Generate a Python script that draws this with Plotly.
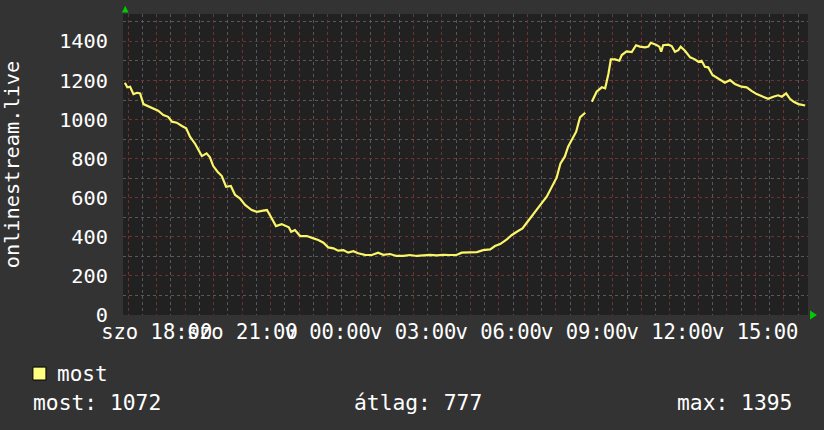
import plotly.graph_objects as go
import pandas as pd

# ---- data ----
times = [
    "2024-03-16 16:53", "2024-03-16 16:58", "2024-03-16 17:04", "2024-03-16 17:11", "2024-03-16 17:19",
    "2024-03-16 17:25", "2024-03-16 17:32", "2024-03-16 17:42", "2024-03-16 17:53", "2024-03-16 18:03",
    "2024-03-16 18:14", "2024-03-16 18:24", "2024-03-16 18:32", "2024-03-16 18:42", "2024-03-16 18:53",
    "2024-03-16 19:02", "2024-03-16 19:10", "2024-03-16 19:21", "2024-03-16 19:28", "2024-03-16 19:35",
    "2024-03-16 19:45", "2024-03-16 19:52", "2024-03-16 19:59", "2024-03-16 20:08", "2024-03-16 20:17",
    "2024-03-16 20:26", "2024-03-16 20:36", "2024-03-16 20:45", "2024-03-16 20:55", "2024-03-16 21:06",
    "2024-03-16 21:20", "2024-03-16 21:31", "2024-03-16 21:41", "2024-03-16 21:52", "2024-03-16 22:02",
    "2024-03-16 22:11", "2024-03-16 22:23", "2024-03-16 22:34", "2024-03-16 22:38", "2024-03-16 22:43",
    "2024-03-16 22:51", "2024-03-16 23:02", "2024-03-16 23:16", "2024-03-16 23:30", "2024-03-16 23:40",
    "2024-03-16 23:51", "2024-03-17 00:01", "2024-03-17 00:12", "2024-03-17 00:22", "2024-03-17 00:33",
    "2024-03-17 00:43", "2024-03-17 00:54", "2024-03-17 01:04", "2024-03-17 01:18", "2024-03-17 01:33",
    "2024-03-17 01:46", "2024-03-17 01:57", "2024-03-17 02:11", "2024-03-17 02:25", "2024-03-17 02:39",
    "2024-03-17 02:53", "2024-03-17 03:07", "2024-03-17 03:21", "2024-03-17 03:35", "2024-03-17 03:49",
    "2024-03-17 04:03", "2024-03-17 04:17", "2024-03-17 04:31", "2024-03-17 04:42", "2024-03-17 04:56",
    "2024-03-17 05:14", "2024-03-17 05:27", "2024-03-17 05:42", "2024-03-17 05:52", "2024-03-17 06:03",
    "2024-03-17 06:17", "2024-03-17 06:27", "2024-03-17 06:38", "2024-03-17 06:50", "2024-03-17 06:59",
    "2024-03-17 07:09", "2024-03-17 07:20", "2024-03-17 07:30", "2024-03-17 07:41", "2024-03-17 07:52",
    "2024-03-17 08:02", "2024-03-17 08:10", "2024-03-17 08:19", "2024-03-17 08:26", "2024-03-17 08:36",
    "2024-03-17 08:43", "2024-03-17 08:51", "2024-03-17 09:02", "2024-03-17 09:08", "2024-03-17 09:16",
    "2024-03-17 09:26", "2024-03-17 09:37", "2024-03-17 09:44", "2024-03-17 09:51", "2024-03-17 09:56",
    "2024-03-17 10:05", "2024-03-17 10:14", "2024-03-17 10:19", "2024-03-17 10:29", "2024-03-17 10:40",
    "2024-03-17 10:49", "2024-03-17 10:57", "2024-03-17 11:08", "2024-03-17 11:15", "2024-03-17 11:20",
    "2024-03-17 11:31", "2024-03-17 11:38", "2024-03-17 11:42", "2024-03-17 11:46", "2024-03-17 11:57",
    "2024-03-17 12:04", "2024-03-17 12:11", "2024-03-17 12:18", "2024-03-17 12:23", "2024-03-17 12:32",
    "2024-03-17 12:43", "2024-03-17 12:53", "2024-03-17 13:00", "2024-03-17 13:07", "2024-03-17 13:14",
    "2024-03-17 13:21", "2024-03-17 13:30", "2024-03-17 13:42", "2024-03-17 13:56", "2024-03-17 14:07",
    "2024-03-17 14:17", "2024-03-17 14:31", "2024-03-17 14:42", "2024-03-17 14:52", "2024-03-17 15:03",
    "2024-03-17 15:13", "2024-03-17 15:27", "2024-03-17 15:38", "2024-03-17 15:48", "2024-03-17 15:56",
    "2024-03-17 16:05", "2024-03-17 16:13", "2024-03-17 16:21", "2024-03-17 16:31", "2024-03-17 16:45",
]
listeners = [
    1188, 1165, 1168, 1130, 1137,
    1134, 1079, 1069, 1057, 1045,
    1023, 1014, 989, 984, 967,
    955, 912, 875, 844, 813,
    827, 807, 762, 733, 711,
    656, 660, 614, 597, 563,
    537, 528, 533, 537, 495,
    455, 465, 452, 449, 426,
    435, 404, 404, 392, 384,
    370, 346, 341, 329, 332,
    319, 326, 316, 308, 307,
    319, 308, 312, 302, 303,
    307, 302, 305, 308, 305,
    308, 307, 307, 319, 319,
    322, 332, 336, 353, 363,
    387, 408, 426, 443, 472,
    506, 541, 571, 605, 656,
    704, 776, 810, 861, 904,
    938, 1011, 1035, None, 1091,
    1142, 1165, 1160, 1236, 1308,
    1308, 1301, 1330, 1349, 1345,
    1380, 1373, 1369, 1373, 1393,
    1383, 1373, 1347, 1380, 1383,
    1376, 1347, 1355, 1373, 1352,
    1318, 1308, 1296, 1301, 1270,
    1267, 1228, 1211, 1188, 1202,
    1182, 1168, 1165, 1147, 1130,
    1120, 1106, 1117, 1124, 1117,
    1134, 1106, 1091, 1079, 1072,
]

hour_ticks = [
    "2024-03-16 17:00", "2024-03-16 18:00", "2024-03-16 19:00", "2024-03-16 20:00", "2024-03-16 21:00",
    "2024-03-16 22:00", "2024-03-16 23:00", "2024-03-17 00:00", "2024-03-17 01:00", "2024-03-17 02:00",
    "2024-03-17 03:00", "2024-03-17 04:00", "2024-03-17 05:00", "2024-03-17 06:00", "2024-03-17 07:00",
    "2024-03-17 08:00", "2024-03-17 09:00", "2024-03-17 10:00", "2024-03-17 11:00", "2024-03-17 12:00",
    "2024-03-17 13:00", "2024-03-17 14:00", "2024-03-17 15:00", "2024-03-17 16:00",
]
hour_labels = [
    "", "szo 18:00", "", "", "szo 21:00", "", "", "v 00:00", "", "", "v 03:00", "", "", "v 06:00",
    "", "", "v 09:00", "", "", "v 12:00", "", "", "v 15:00", "",
]
y_ticks = [0, 200, 400, 600, 800, 1000, 1200, 1400]
series_name = "most"
y_title = "onlinestream.live"
stats_text = ["most: 1072", "átlag: 777", "max: 1395"]

# half-hour minor grid positions
half_hours = [t.strftime("%Y-%m-%d %H:%M") for t in
              pd.date_range("2024-03-16 16:30", "2024-03-17 16:30", freq="60min")]

# ---- styling ----
FONT = "DejaVu Sans Mono"
BG = "#333333"
PLOT_BG = "#212121"
GRID_MINOR = "#585858"
GRID_MAJOR = "#6e3232"
LINE = "#fbf56a"
TXT = "#ffffff"

fig = go.Figure()
fig.add_trace(go.Scatter(
    x=times, y=listeners, mode="lines", name=series_name,
    line=dict(color=LINE, width=2.2), connectgaps=False, showlegend=False,
))

fig.update_layout(
    width=824, height=430,
    margin=dict(l=123, r=16, t=14, b=115, autoexpand=False),
    paper_bgcolor=BG, plot_bgcolor=PLOT_BG,
    font=dict(family=FONT, size=20, color=TXT),
    showlegend=False,
)
fig.update_xaxes(
    type="date",
    range=["2024-03-16 16:49", "2024-03-17 16:51"],
    tickmode="array", tickvals=hour_ticks, ticktext=hour_labels,
    tickangle=0, automargin=False,
    showgrid=True, gridcolor=GRID_MAJOR, griddash="dot", gridwidth=1,
    ticks="", ticklabelstandoff=2,
    minor=dict(tickmode="array", tickvals=half_hours, showgrid=True,
               gridcolor=GRID_MINOR, griddash="dot", gridwidth=1, ticks=""),
    tickfont=dict(family=FONT, size=20.5, color=TXT),
    zeroline=False, showline=False, fixedrange=True,
)
fig.update_yaxes(
    range=[0, 1540], automargin=False,
    tickmode="array", tickvals=y_ticks, ticktext=[str(v) for v in y_ticks],
    showgrid=True, gridcolor=GRID_MAJOR, griddash="dot", gridwidth=1,
    minor=dict(dtick=100, tick0=0, showgrid=True, gridcolor=GRID_MINOR,
               griddash="dot", gridwidth=1),
    ticks="", ticklabelstandoff=14,
    tickfont=dict(family=FONT, size=20.3, color=TXT),
    title=dict(text=y_title, font=dict(family=FONT, size=20.3, color=TXT), standoff=36),
    zeroline=False, showline=False, fixedrange=True,
)

# green axis arrows
fig.add_shape(type="path", xref="paper", yref="paper",
              path="M -0.0015,1.005 L 0.008,1.005 L 0.0033,1.027 Z",
              fillcolor="#00cc00", line=dict(width=0))
fig.add_shape(type="path", xref="paper", yref="paper",
              path="M 1.003,0.015 L 1.003,-0.015 L 1.013,0 Z",
              fillcolor="#00cc00", line=dict(width=0))

# legend block
fig.add_shape(type="rect", xref="paper", yref="paper",
              x0=-0.1315, x1=-0.1125, y0=-0.173, y1=-0.216,
              fillcolor="#ffff80", line=dict(color="#000000", width=1))
fig.add_annotation(text=series_name, xref="paper", yref="paper", x=-0.1,
                   y=-0.196, xanchor="left", yanchor="middle", showarrow=False,
                   font=dict(family=FONT, size=21, color=TXT))
stat_x = [-0.1345, 0.3345, 0.8055]
for sx, st in zip(stat_x, stats_text):
    fig.add_annotation(text=st, xref="paper", yref="paper", x=sx, y=-0.29,
                       xanchor="left", yanchor="middle", showarrow=False,
                       font=dict(family=FONT, size=21.3, color=TXT))

fig.write_html(
    "out.html",
    config={"displayModeBar": False},
    post_script="document.body.style.margin='0';document.body.style.background='#333333';",
)
